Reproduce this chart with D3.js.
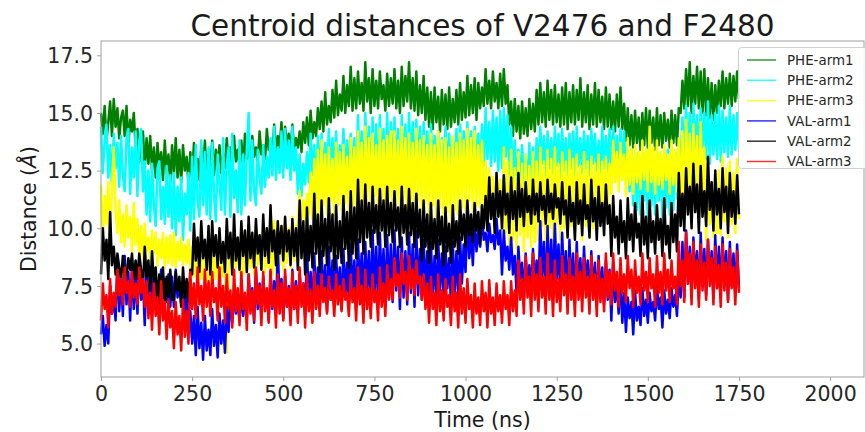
<!DOCTYPE html>
<html><head><meta charset="utf-8">
<script src="https://cdn.jsdelivr.net/npm/d3@7"></script>
<style>body{margin:0;background:#fff;}svg{display:block;font-family:"DejaVu Sans",sans-serif;}</style>
</head><body><svg id="c" width="865" height="432"></svg>
<script>
// ---- data (time in ns, distance in Å) ----
const timeStep = 5; // ns between samples
const seriesNames = ["PHE-arm1","PHE-arm2","PHE-arm3","VAL-arm1","VAL-arm2","VAL-arm3"];
const seriesColors = ["#008000","#00ffff","#ffff00","#0000ff","#000000","#ff0000"];
const xTicks = [0,250,500,750,1000,1250,1500,1750,2000];
const yTicks = [5.0,7.5,10.0,12.5,15.0,17.5];

const pheArm1 = [
15.0,14.1,15.3,13.8,14.6,15.5,14.0,15.6,14.4,15.2,13.9,14.8,15.1,14.0,15.3,13.6,14.7,14.2,15.0,13.5,
14.3,12.9,13.8,14.2,12.6,13.9,12.8,14.0,12.5,13.5,12.2,13.7,12.6,13.3,12.1,13.8,12.4,13.2,12.0,13.6,
12.3,13.9,12.2,13.4,12.0,13.6,12.5,13.1,11.9,13.3,12.2,13.7,12.4,13.0,12.1,13.5,12.3,13.8,12.2,13.2,
12.5,13.8,12.3,13.4,12.7,13.6,12.4,13.2,12.6,13.9,12.8,13.5,12.6,14.0,12.9,13.4,12.7,13.8,12.6,14.1,
13.0,13.7,12.8,14.0,13.1,13.5,12.9,14.2,13.2,13.6,13.0,14.3,13.4,13.8,13.1,14.5,13.3,14.0,13.5,14.6,
13.2,14.4,13.6,14.1,13.3,14.5,13.4,13.9,13.5,14.2,13.3,14.6,13.7,14.8,13.6,15.1,13.9,14.6,14.0,15.2,
14.3,15.5,14.2,15.9,14.5,15.3,14.6,16.0,14.8,16.4,14.9,15.8,15.1,16.6,15.0,16.2,15.3,17.0,15.1,16.5,
15.2,16.8,15.4,16.3,15.1,17.2,15.5,16.5,15.0,16.9,15.3,16.4,15.2,16.8,15.6,16.2,15.1,16.7,15.3,16.5,
15.4,16.9,15.2,16.4,15.0,17.0,15.3,16.6,15.5,17.2,15.2,16.5,15.1,16.8,14.9,16.2,15.0,16.6,14.7,16.1,
14.4,15.9,14.3,16.1,14.6,15.7,14.2,16.0,14.5,15.8,14.3,16.1,14.4,15.6,14.6,16.0,14.5,16.3,14.7,15.9,
14.8,16.6,14.9,16.2,15.0,16.5,14.7,16.3,15.2,16.1,15.3,16.9,15.4,16.4,15.2,16.8,15.5,16.3,15.2,16.7,
15.3,16.9,15.4,16.2,14.5,15.5,14.0,15.6,14.2,15.3,13.9,15.5,14.1,15.2,14.0,15.6,14.3,15.4,14.2,16.0,
14.5,16.3,14.6,15.9,14.4,16.4,14.7,16.0,14.5,16.2,14.6,15.8,14.4,16.1,14.5,16.3,14.3,15.9,14.6,16.2,
14.5,16.0,14.7,16.5,14.4,15.9,14.6,16.2,14.3,15.8,14.5,16.3,14.4,16.0,14.6,15.7,14.3,16.1,14.4,15.8,
14.3,15.5,14.2,15.8,14.4,16.1,14.3,15.4,13.8,15.2,13.6,14.9,13.5,15.1,13.7,14.8,13.4,15.0,13.6,15.2,
13.5,15.1,13.7,14.8,13.4,15.2,13.6,14.9,13.5,15.0,13.8,14.7,13.5,15.1,13.7,14.9,13.6,15.2,15.0,16.4,
15.2,16.9,15.3,17.2,15.0,16.6,15.4,17.0,15.2,16.8,15.0,16.9,14.9,16.5,14.8,16.3,14.7,16.2,15.0,16.4,
15.3,16.8,15.2,16.5,15.4,16.7,15.3,16.6,15.5,16.8,15.6];

const pheArm2 = [
14.4,12.4,13.8,14.5,12.2,13.6,11.9,14.1,12.6,13.7,11.8,14.0,12.3,11.6,13.9,14.3,11.5,13.5,12.2,14.2,
11.4,13.8,14.3,11.6,12.9,10.6,12.5,10.3,12.8,11.0,10.1,12.6,12.9,10.4,11.8,10.2,12.7,10.5,12.3,10.0,
12.4,9.7,11.8,10.3,12.2,9.5,11.5,10.6,12.4,9.9,13.1,10.4,13.6,11.2,10.5,13.8,11.0,13.3,10.6,13.5,
10.4,13.7,11.5,10.3,13.2,12.0,10.8,13.9,10.6,12.7,13.5,10.5,14.1,11.3,12.5,10.7,13.8,10.6,13.2,11.0,
13.4,15.0,11.2,13.8,11.6,11.0,13.4,12.2,11.5,13.6,11.8,13.1,12.2,13.9,12.3,14.4,12.1,13.5,12.4,14.2,
12.2,14.3,12.6,13.8,12.1,14.4,12.5,13.5,11.5,13.2,11.4,12.8,11.9,13.3,12.0,14.1,12.3,13.6,11.9,14.0,
12.2,14.1,12.0,13.7,12.4,14.3,12.1,13.9,12.3,14.2,12.0,13.6,12.5,14.3,12.2,13.8,12.4,14.1,12.1,13.9,
11.6,14.9,12.4,14.2,11.8,15.0,12.6,14.4,11.5,14.8,12.2,14.5,11.9,14.9,12.7,14.3,11.7,15.0,12.1,14.6,
11.9,14.8,12.5,14.3,11.6,14.9,12.2,14.5,11.8,15.0,12.4,14.6,12.0,14.7,12.6,14.4,12.2,14.6,12.3,14.2,
12.1,14.5,12.6,14.0,12.0,14.2,12.4,13.9,12.3,14.4,12.5,14.1,12.2,13.8,12.6,14.3,12.4,14.5,12.7,14.2,
12.3,14.6,12.8,14.2,12.5,14.4,12.9,14.1,12.6,14.5,12.7,15.2,13.0,14.6,12.7,15.1,12.9,14.8,12.5,15.1,
12.6,15.2,13.1,14.9,12.3,14.4,11.8,13.8,11.6,13.4,12.0,13.6,11.8,13.2,11.7,13.7,12.0,13.5,11.7,13.9,
12.3,14.4,12.8,14.0,12.2,14.2,12.6,13.9,12.4,14.4,12.7,14.1,12.2,14.3,12.5,13.9,12.3,14.1,12.6,14.2,
12.2,14.4,12.7,13.9,12.4,14.2,12.6,14.0,12.3,14.3,12.8,14.1,12.5,13.8,12.4,14.4,12.6,14.0,12.4,14.3,
12.6,14.4,12.9,14.0,12.5,14.3,12.7,14.2,12.0,13.6,11.6,13.4,11.0,13.2,10.8,13.3,10.6,12.9,11.2,13.4,
10.4,13.3,11.0,13.1,10.6,13.4,11.2,12.8,10.5,13.2,10.9,13.4,10.6,13.0,10.8,13.3,11.3,13.2,12.9,14.8,
13.0,15.3,13.4,15.0,12.9,15.4,13.3,14.9,13.1,15.2,13.5,15.0,13.0,15.5,12.8,14.9,13.2,15.0,13.0,15.3,
12.9,15.1,13.3,14.8,13.1,15.3,13.2,14.9,13.4,15.0,13.4];

const pheArm3 = [
11.9,9.6,11.4,10.2,12.0,9.5,11.6,13.5,10.8,9.8,11.2,9.4,10.6,9.2,11.0,9.6,10.5,9.0,11.1,9.3,
10.4,8.8,10.1,8.7,10.2,9.0,9.6,8.6,9.9,8.9,9.8,8.4,9.5,8.7,9.8,8.3,9.6,8.5,9.7,8.4,
9.8,8.3,9.4,8.6,9.6,8.4,9.3,8.5,9.5,8.3,9.2,7.9,8.8,7.6,9.1,7.8,9.0,7.5,9.2,7.7,
9.3,7.5,8.9,7.8,9.1,7.6,9.0,7.9,9.3,4.6,8.2,9.4,8.0,9.1,8.3,9.6,8.1,9.4,8.0,9.7,
8.1,9.8,8.3,9.5,8.0,10.0,8.4,9.7,8.2,10.2,8.1,9.6,8.3,9.9,8.0,10.3,8.2,9.8,8.4,10.1,
8.2,10.4,8.5,10.0,8.3,10.5,8.6,10.1,10.2,11.6,10.4,11.2,10.3,11.5,10.6,12.4,10.4,13.0,10.5,13.4,
10.4,13.8,11.0,13.2,10.6,13.5,11.2,13.0,10.5,13.7,11.0,13.3,10.8,13.6,11.1,13.1,10.6,13.9,11.0,13.5,
10.8,14.2,11.3,13.7,10.6,14.4,11.2,13.9,10.9,14.1,11.4,13.6,10.7,14.3,11.1,13.8,11.0,14.0,11.3,14.2,
10.6,14.2,11.2,13.8,10.8,14.4,11.3,13.9,10.5,14.1,11.0,13.7,10.9,14.3,11.2,13.8,10.7,14.0,11.1,13.6,
10.5,14.1,11.0,13.6,10.4,14.2,10.9,13.8,10.2,13.9,10.7,13.5,10.3,14.0,10.8,13.7,10.6,14.1,10.9,13.8,
10.8,14.3,11.2,13.9,10.7,14.2,11.0,13.6,10.9,13.8,10.6,12.9,10.8,12.6,10.5,12.2,10.7,12.4,10.6,12.1,
9.0,13.5,9.8,12.9,8.9,13.4,9.5,12.6,9.1,13.3,9.7,12.8,9.0,13.2,9.6,12.7,9.2,13.3,9.4,12.9,
9.5,13.5,10.1,12.9,9.4,13.4,10.0,13.0,9.6,13.5,10.2,12.8,9.5,13.3,10.0,12.9,9.6,13.4,10.1,13.0,
9.7,13.2,10.2,12.7,9.5,13.3,10.1,12.9,9.6,13.1,10.0,12.8,10.0,13.2,10.4,12.9,10.7,13.1,11.0,12.8,
11.5,13.8,12.0,13.3,11.6,13.7,12.1,13.2,11.4,13.9,11.9,13.4,11.5,13.6,12.0,13.3,11.7,13.8,12.1,13.4,
11.6,14.4,12.0,13.5,11.5,13.8,11.9,13.3,11.7,13.6,12.1,13.2,11.5,13.8,11.9,13.4,11.6,13.9,10.9,14.2,
10.6,14.7,11.3,14.1,10.8,14.5,11.4,14.0,10.5,14.6,11.0,13.5,9.5,12.0,10.2,11.4,9.6,11.8,9.8,12.5,
9.7,13.1,10.3,12.6,9.6,12.9,10.2,12.4,9.8,13.0,10.4];

const valArm1 = [
5.4,6.2,4.9,5.8,5.0,7.5,6.3,7.0,6.0,8.6,6.4,7.9,6.2,8.8,6.7,8.1,6.0,8.4,6.5,8.0,
6.3,8.6,6.9,7.8,5.8,8.2,6.4,7.9,6.5,8.1,6.9,7.7,6.6,8.2,7.0,7.8,6.8,8.0,6.6,7.9,
6.6,8.2,7.0,7.6,6.7,7.9,6.2,7.3,5.8,6.4,5.0,6.2,4.5,6.6,4.8,5.9,4.3,6.2,4.7,5.6,
4.5,6.5,4.9,5.8,4.4,6.3,5.0,6.0,4.6,6.6,5.5,7.0,5.9,7.2,6.3,6.8,6.0,7.1,6.2,7.0,
6.1,8.0,6.6,7.4,5.9,8.2,6.5,7.6,6.2,7.9,6.7,7.3,6.0,8.1,6.5,7.7,6.3,9.2,6.6,7.8,
6.1,7.9,6.6,7.5,6.0,8.2,6.5,7.7,6.4,8.0,6.8,7.6,6.2,9.2,6.7,8.1,6.3,8.9,6.8,8.3,
6.5,9.0,7.0,8.4,6.4,9.2,6.9,8.6,6.6,8.8,7.1,8.3,6.5,9.1,7.0,8.5,6.7,9.3,7.2,8.6,
6.6,9.5,7.2,8.9,6.8,9.4,7.3,9.0,6.5,9.9,7.1,9.2,6.7,9.8,7.4,9.1,6.6,9.7,7.0,9.3,
6.8,9.9,7.3,9.2,6.5,9.6,7.0,9.0,6.7,9.8,7.2,9.3,6.6,9.9,7.1,9.1,6.9,9.5,7.2,9.0,
6.6,9.4,7.1,8.8,6.8,9.5,7.3,8.9,7.0,9.2,7.4,8.7,6.7,9.4,7.2,9.0,6.9,9.6,7.6,9.3,
8.1,10.6,8.7,9.8,8.4,10.3,9.0,9.9,9.2,10.5,9.5,9.8,9.0,10.2,9.4,9.7,9.1,10.4,9.3,9.9,
8.0,9.9,8.6,9.2,8.2,9.6,8.0,8.8,7.2,9.2,7.8,8.5,7.0,8.9,7.5,8.4,7.3,9.1,7.6,8.6,
7.2,10.3,7.9,9.4,7.0,10.1,7.6,9.5,7.3,10.2,7.8,9.3,7.1,9.8,7.5,9.0,6.9,9.5,7.4,8.9,
6.8,9.4,7.3,8.7,7.0,9.2,7.5,8.6,6.7,9.0,7.2,8.5,6.6,8.8,7.1,8.3,6.7,8.6,6.9,8.2,
6.0,8.5,6.8,7.6,6.3,7.9,5.9,7.2,5.5,7.0,6.1,6.8,5.4,7.3,6.0,6.6,5.8,7.4,6.2,6.9,
5.9,7.2,6.4,6.8,6.0,7.5,6.5,7.0,5.7,7.3,6.3,6.9,6.1,7.4,6.6,7.1,6.2,8.0,7.0,9.4,
7.0,9.9,7.6,9.2,7.2,9.6,7.8,9.0,6.9,9.8,7.5,9.1,7.1,9.5,7.7,9.0,7.0,9.7,7.4,9.2,
7.2,9.6,7.7,9.0,6.9,9.4,7.5,8.9,7.1,9.3,7.4];

const valArm2 = [
8.0,10.0,8.6,9.5,7.8,10.7,8.4,9.2,8.0,8.9,8.3,7.8,8.8,8.1,7.9,8.7,8.2,8.9,7.8,8.6,
7.8,8.9,8.2,7.4,9.2,7.9,8.6,7.3,9.0,7.6,8.3,6.8,8.0,7.2,8.3,6.7,7.9,7.0,8.2,6.9,
6.9,8.1,7.3,7.9,6.6,8.3,7.0,7.8,6.8,8.2,8.0,10.2,8.6,9.6,8.1,10.3,8.7,9.5,8.2,10.1,
8.0,10.3,8.8,9.7,8.3,10.0,8.5,9.4,8.1,10.4,8.7,9.8,8.0,10.6,8.6,9.6,8.2,10.3,8.8,9.9,
8.1,10.5,8.7,9.8,8.3,10.4,8.9,9.7,8.2,10.6,8.8,10.0,8.5,11.0,9.0,9.9,8.4,10.3,8.9,10.1,
8.6,10.5,9.0,9.9,8.4,10.4,8.8,10.0,8.2,11.2,8.7,10.3,8.0,10.9,8.6,10.1,8.3,11.5,8.9,10.6,
8.1,11.2,8.8,10.4,8.4,11.3,9.0,10.6,8.2,11.0,8.7,10.3,8.5,11.4,9.1,10.7,8.3,11.6,8.9,10.9,
8.7,12.1,9.4,11.2,8.9,11.9,9.6,11.1,9.2,11.8,9.8,11.0,9.3,11.7,9.9,11.2,9.2,11.8,9.7,11.1,
9.4,11.6,9.9,10.9,9.2,11.8,9.8,11.0,9.3,11.7,9.7,11.1,9.2,11.5,9.6,10.8,8.6,11.2,9.2,10.6,
8.5,11.1,9.1,10.4,8.7,11.2,9.3,10.5,8.4,10.9,9.0,10.2,8.5,11.0,9.2,10.3,8.9,11.2,9.5,10.6,
9.2,11.2,9.7,10.6,9.4,11.1,9.9,10.7,9.3,11.0,10.0,11.4,9.9,12.2,10.4,11.5,9.8,12.4,10.5,11.6,
10.0,12.3,10.6,11.5,9.8,12.2,10.4,11.6,9.9,12.4,10.5,11.7,10.1,12.0,10.7,11.4,10.2,12.1,10.6,11.5,
10.3,12.0,10.8,11.4,10.2,12.1,10.7,11.5,10.4,11.9,10.9,11.3,10.2,12.0,10.6,11.2,9.6,11.8,10.3,11.1,
9.5,12.0,10.2,11.2,9.7,11.9,10.4,11.0,9.6,12.1,10.3,11.3,9.5,11.8,10.1,11.1,9.7,11.9,10.2,11.0,
8.8,11.4,9.6,10.5,8.9,11.2,9.4,10.3,8.7,11.3,9.5,10.6,9.0,11.1,9.6,10.2,8.8,11.4,9.3,10.5,
8.7,11.2,9.4,10.3,8.9,11.0,9.5,10.4,8.8,11.3,9.3,10.1,8.7,11.1,9.4,10.6,9.0,12.4,10.1,11.5,
9.9,12.6,10.6,11.8,10.0,12.8,10.7,11.9,9.8,12.7,10.5,11.6,10.1,13.1,10.8,12.0,9.9,12.5,10.6,11.7,
10.0,12.6,10.7,11.8,9.8,12.4,10.5,11.6,10.2,12.3,10.6];

const valArm3 = [
6.0,7.6,6.5,7.1,5.7,7.8,6.3,7.2,6.6,8.2,7.1,7.8,6.7,8.3,7.2,7.7,6.6,8.1,7.0,7.6,
6.7,8.3,7.2,7.8,6.6,7.7,6.1,7.2,5.6,7.6,6.2,7.0,5.4,7.7,6.0,6.8,5.2,6.9,5.7,6.4,
4.8,6.8,5.4,6.2,4.7,6.9,5.3,6.4,5.0,8.1,6.5,7.6,6.1,8.3,6.7,7.5,6.0,8.2,6.6,7.7,
6.2,8.1,6.8,7.4,6.0,8.3,6.6,7.5,5.9,8.0,6.5,7.3,5.7,8.2,6.4,7.4,5.8,8.1,6.5,7.2,
5.6,8.0,6.3,7.3,6.0,8.3,6.7,7.5,5.8,8.1,6.4,7.4,5.9,8.2,6.6,7.3,5.7,8.0,6.3,7.6,
6.0,8.2,6.6,7.4,5.8,8.1,6.5,7.5,5.9,8.3,6.6,7.6,5.7,8.0,6.4,7.3,5.9,8.1,6.5,7.5,
6.2,8.0,6.8,7.4,6.3,7.9,6.9,7.3,6.2,8.0,6.7,7.5,6.4,7.8,6.9,7.2,6.2,8.0,6.8,7.4,
6.0,8.3,6.7,7.5,5.9,8.2,6.5,7.4,6.1,8.0,6.8,7.3,6.0,8.3,6.6,7.6,6.2,8.4,6.9,7.8,
6.9,8.7,7.5,8.0,7.0,8.9,7.6,8.1,6.9,8.8,7.4,8.2,7.1,8.6,7.6,7.9,6.9,8.0,6.5,7.6,
5.9,7.9,6.5,7.2,5.8,8.0,6.4,7.3,6.0,7.8,6.6,7.1,5.8,7.9,6.4,7.2,5.7,8.0,6.3,7.4,
5.9,7.8,6.5,7.1,5.7,7.6,6.3,7.0,5.8,7.7,6.4,7.2,5.7,7.75,6.3,7.0,5.8,7.6,6.4,7.1,
5.9,7.7,6.5,7.1,5.8,7.7,6.4,7.3,6.2,8.6,6.9,7.8,6.3,8.8,7.0,7.9,6.2,8.9,6.9,8.0,
6.4,8.7,7.0,7.9,6.3,8.9,6.9,8.0,6.2,8.6,6.8,7.8,6.4,8.8,7.1,8.0,6.3,8.7,6.9,7.9,
6.2,8.9,6.9,8.1,6.4,8.7,7.0,7.9,6.3,8.8,6.9,8.0,6.2,8.6,6.8,7.8,6.4,8.9,7.0,8.1,
6.7,8.9,7.3,8.1,6.6,8.7,7.2,8.0,6.8,8.8,7.4,8.2,6.6,8.6,7.2,7.9,6.7,8.9,7.3,8.1,
6.8,8.7,7.4,8.0,6.6,8.8,7.2,8.1,6.7,8.9,7.3,8.2,6.8,8.6,7.4,7.9,6.7,9.4,7.5,8.6,
6.8,9.8,7.6,8.9,6.7,9.4,7.4,8.6,6.6,9.3,7.3,8.5,6.9,9.5,7.5,8.7,6.7,9.2,7.4,8.4,
6.6,9.3,7.3,8.5,6.8,9.1,7.4,8.3,6.7,9.0,7.2];

const allSeries = [pheArm1,pheArm2,pheArm3,valArm1,valArm2,valArm3];

// ---- layout ----
const svg = d3.select("#c");
const L = 101, R = 864, T = 41, B = 377;
const x = d3.scaleLinear().domain([0, 2093]).range([L, R]);
const y = d3.scaleLinear().domain([3.55, 18.12]).range([B, T]);

// lines
const line = d3.line().x((d,i)=>x(i*timeStep)).y(d=>y(d));
allSeries.forEach((s,k)=>{
  svg.append("path").datum(s).attr("d", line)
    .attr("fill","none").attr("stroke", seriesColors[k])
    .attr("stroke-width",2.5).attr("stroke-linejoin","round");
});

// frame
svg.append("rect").attr("x",L).attr("y",T).attr("width",R-L).attr("height",B-T)
  .attr("fill","none").attr("stroke","#a0a0a0").attr("stroke-width",1);

// axes
const xa = svg.append("g").attr("transform",`translate(0,${B})`)
  .call(d3.axisBottom(x).tickValues(xTicks).tickSize(4).tickPadding(5).tickFormat(d3.format("d")));
const ya = svg.append("g").attr("transform",`translate(${L},0)`)
  .call(d3.axisLeft(y).tickValues(yTicks).tickSize(4).tickPadding(4).tickFormat(d3.format(".1f")));
[xa,ya].forEach(g=>{
  g.select(".domain").remove();
  g.selectAll(".tick line").attr("stroke","#a0a0a0");
  g.selectAll(".tick text").attr("fill","#262626").style("font-size","20.5px")
    .style("font-family","'DejaVu Sans'");
});
ya.selectAll(".tick text").attr("dy","0.36em");

// title and labels
svg.append("text").attr("x",(L+R)/2).attr("y",36).attr("text-anchor","middle")
  .style("font-size","29.5px").attr("fill","#1a1a1a").text("Centroid distances of V2476 and F2480");
svg.append("text").attr("x",(L+R)/2).attr("y",427).attr("text-anchor","middle")
  .style("font-size","20.5px").attr("fill","#1a1a1a").text("Time (ns)");
const yl = svg.append("text").attr("transform",`translate(36,${(T+B)/2}) rotate(-90)`)
  .attr("text-anchor","middle").style("font-size","20.5px").attr("fill","#1a1a1a");
yl.append("tspan").text("Distance (");
yl.append("tspan").style("font-style","italic").text("Å");
yl.append("tspan").text(")");

// legend
const lg = svg.append("g");
lg.append("rect").attr("x",738.5).attr("y",47.5).attr("width",140).attr("height",121).attr("rx",3)
  .attr("fill","rgba(255,255,255,0.85)").attr("stroke","#d0d0d0");
seriesNames.forEach((n,k)=>{
  const yy = 60 + k*20.3;
  lg.append("line").attr("x1",747).attr("x2",776).attr("y1",yy).attr("y2",yy)
    .attr("stroke",seriesColors[k]).attr("stroke-width",1.5).attr("opacity",0.8);
  lg.append("text").attr("x",787).attr("y",yy).attr("dy","0.35em")
    .style("font-size","13.4px").attr("fill","#262626").text(n);
});
</script></body></html>
